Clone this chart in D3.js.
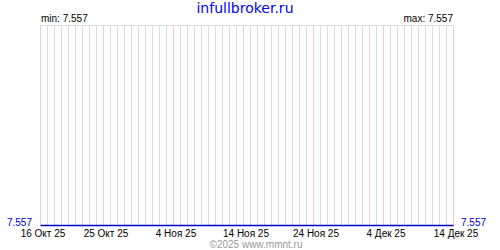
<!DOCTYPE html>
<html><head><meta charset="utf-8">
<script src="https://cdn.jsdelivr.net/npm/d3@7"></script>
<style>body{margin:0;background:#fff}svg{display:block}</style>
</head><body>
<svg id="c" width="500" height="250"></svg>
<script>
const title = "infullbroker.ru";
const credit = "©2025 www.mmnt.ru";
const startDate = "2025-10-16";
const endDate = "2025-12-14";
const labelDates = ["2025-10-16","2025-10-25","2025-11-04","2025-11-14","2025-11-24","2025-12-04","2025-12-14"];
const labelTexts = ["16 Окт 25","25 Окт 25","4 Ноя 25","14 Ноя 25","24 Ноя 25","4 Дек 25","14 Дек 25"];
const values = [7.557,7.557,7.557,7.557,7.557,7.557,7.557,7.557,7.557,7.557,
                7.557,7.557,7.557,7.557,7.557,7.557,7.557,7.557,7.557,7.557,
                7.557,7.557,7.557,7.557,7.557,7.557,7.557,7.557,7.557,7.557,
                7.557,7.557,7.557,7.557,7.557,7.557,7.557,7.557,7.557,7.557,
                7.557,7.557,7.557,7.557,7.557,7.557,7.557,7.557,7.557,7.557,
                7.557,7.557,7.557,7.557,7.557,7.557,7.557,7.557,7.557,7.557];

const parse = d3.utcParse("%Y-%m-%d");
const days = d3.utcDay.range(parse(startDate), d3.utcDay.offset(parse(endDate), 1));
const data = days.map((d, i) => ({date: d, value: values[i]}));
const minV = d3.min(values), maxV = d3.max(values);

const L = 40, R = 453, T = 25, B = 225;
const x = d3.scaleUtc().domain([parse(startDate), parse(endDate)]).range([L, R]);
const y = d3.scaleLinear().domain([minV, maxV === minV ? minV + 1 : maxV]).range([B, T]);

const svg = d3.select("#c");
const font = "'Liberation Sans', Arial, sans-serif";
const tfont = "'DejaVu Sans', Verdana, sans-serif";

// daily grid
const labelSet = new Set(labelDates);
svg.append("g").selectAll("line").data(days).join("line")
  .attr("x1", d => Math.round(x(d)) + 0.5).attr("x2", d => Math.round(x(d)) + 0.5)
  .attr("y1", T).attr("y2", B)
  .attr("stroke", d => labelSet.has(d3.utcFormat("%Y-%m-%d")(d)) ? "#ffc8c8" : "#dcdcdc")
  .attr("stroke-width", 1);

// top border
svg.append("line").attr("x1", L).attr("x2", R + 1).attr("y1", T + 0.5).attr("y2", T + 0.5)
  .attr("stroke", "#dcdcdc");

// series line
svg.append("path").datum(data)
  .attr("d", d3.line().x(d => Math.round(x(d.date)) + 0.5).y(d => y(d.value) + 0.5))
  .attr("fill", "none").attr("stroke", "#0000cc").attr("stroke-width", 1.5);

// x labels
svg.append("g").selectAll("text").data(labelDates).join("text")
  .attr("x", d => x(parse(d)) + 3).attr("y", 237)
  .attr("text-anchor", "middle")
  .attr("font-family", font).attr("font-size", 10).attr("fill", "#000")
  .text((d, i) => labelTexts[i]);

// y labels
const fmt = d3.format(".3f");
svg.append("text").attr("x", 32).attr("y", y(minV) + 1).attr("text-anchor", "end")
  .attr("font-family", font).attr("font-size", 10).attr("fill", "#0000cc").text(fmt(minV));
svg.append("text").attr("x", 461).attr("y", y(maxV) + 1).attr("text-anchor", "start")
  .attr("font-family", font).attr("font-size", 10).attr("fill", "#0000cc").text(fmt(maxV));

// min / max
svg.append("text").attr("x", 41).attr("y", 22)
  .attr("font-family", font).attr("font-size", 10).attr("fill", "#000").text("min: " + fmt(minV));
svg.append("text").attr("x", 453).attr("y", 22).attr("text-anchor", "end")
  .attr("font-family", font).attr("font-size", 10).attr("fill", "#000").text("max: " + fmt(maxV));

// title
svg.append("text").attr("x", 245).attr("y", 13).attr("text-anchor", "middle")
  .attr("font-family", tfont).attr("font-size", 14).attr("fill", "#0000ff").text(title);

// credit
svg.append("text").attr("x", 256).attr("y", 248).attr("text-anchor", "middle")
  .attr("font-family", font).attr("font-size", 10).attr("fill", "#999").text(credit);
</script>
</body></html>
